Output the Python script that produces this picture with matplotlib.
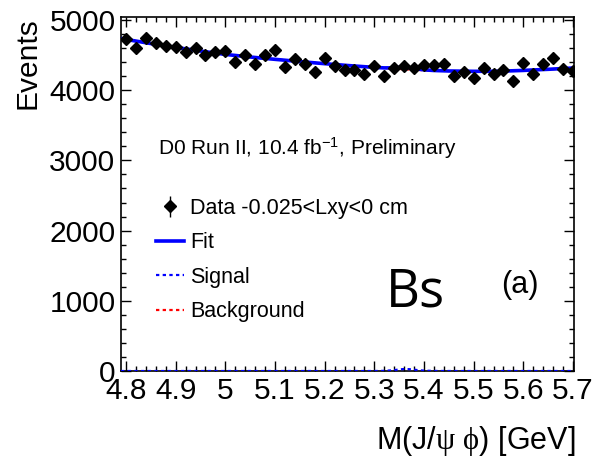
import numpy as np
import matplotlib
matplotlib.use("Agg")
import matplotlib.pyplot as plt
from matplotlib.ticker import MultipleLocator

# ---- data ----
mass = [4.80, 4.82, 4.84, 4.86, 4.88, 4.90, 4.92, 4.94, 4.96, 4.98,
        5.00, 5.02, 5.04, 5.06, 5.08, 5.10, 5.12, 5.14, 5.16, 5.18,
        5.20, 5.22, 5.24, 5.26, 5.28, 5.30, 5.32, 5.34, 5.36, 5.38,
        5.40, 5.42, 5.44, 5.46, 5.48, 5.50, 5.52, 5.54, 5.56, 5.58,
        5.60, 5.62, 5.64, 5.66, 5.68, 5.70]
events = [4729, 4606, 4744, 4668, 4634, 4620, 4540, 4606, 4501, 4540,
          4563, 4397, 4506, 4373, 4506, 4573, 4326, 4444, 4373, 4264,
          4463, 4340, 4288, 4283, 4231, 4340, 4202, 4316, 4349, 4312,
          4363, 4354, 4373, 4198, 4255, 4169, 4321, 4226, 4288, 4127,
          4383, 4236, 4368, 4463, 4302, 4278]

curve_mass = [4.79, 4.85, 4.90, 4.95, 5.00, 5.05, 5.10, 5.15, 5.20, 5.25,
              5.30, 5.32, 5.34, 5.35, 5.36, 5.37, 5.38, 5.40, 5.42, 5.45,
              5.50, 5.55, 5.60, 5.65, 5.70]
background = [4735, 4665, 4610, 4558, 4510, 4473, 4440, 4408, 4378, 4350,
              4325, 4316, 4307, 4303, 4299, 4295, 4291, 4285, 4280, 4274,
              4269, 4270, 4282, 4298, 4316]
signal = [0, 0, 0, 0, 0, 0, 0, 0, 0, 0,
          0, 2, 12, 22, 28, 26, 18, 5, 1, 0,
          0, 0, 0, 0, 0]

x_ticks = [4.8, 4.9, 5.0, 5.1, 5.2, 5.3, 5.4, 5.5, 5.6, 5.7]
x_tick_labels = ["4.8", "4.9", "5", "5.1", "5.2", "5.3", "5.4", "5.5", "5.6", "5.7"]
y_ticks = [0, 1000, 2000, 3000, 4000, 5000]

fit = [b + s for b, s in zip(background, signal)]
errors = np.sqrt(np.array(events, dtype=float))

# ---- figure ----
plt.rcParams['font.family'] = ['Liberation Sans', 'DejaVu Sans']
plt.rcParams['mathtext.fontset'] = 'custom'
plt.rcParams['mathtext.rm'] = 'Liberation Serif'
plt.rcParams['mathtext.it'] = 'Liberation Serif:italic'
plt.rcParams['mathtext.bf'] = 'Liberation Serif:bold'

fig = plt.figure(figsize=(5.94, 4.62), dpi=100)
ax = fig.add_axes([121/594, 1 - 371/462, (574 - 121)/594, (371 - 17)/462])

bkg_line, = ax.plot(curve_mass, background, color='#ff0000', lw=1.6,
                    ls=(0, (1.5, 1.5)), zorder=2)
fit_line, = ax.plot(curve_mass, fit, color='#0000ff', lw=2.6, zorder=3)
sig_line, = ax.plot(curve_mass, signal, color='#0000ff', lw=1.6,
                    ls=(0, (1.5, 1.5)), zorder=3)
data = ax.errorbar(mass, events, yerr=errors, fmt='D', color='black',
                   ms=6.4, elinewidth=1.0, capsize=0, zorder=4)

ax.set_xlim(4.79, 5.702)
ax.set_ylim(0, 5043)

ax.set_xticks(x_ticks)
ax.set_xticklabels(x_tick_labels)
ax.set_yticks(y_ticks)
ax.xaxis.set_minor_locator(MultipleLocator(0.02))
ax.yaxis.set_minor_locator(MultipleLocator(200))
ax.tick_params(which='both', direction='in', top=True, right=True,
               labelsize=21.5, width=1.0, colors='black')
ax.tick_params(which='major', length=7.5)
ax.tick_params(which='minor', length=3.5)
ax.tick_params(axis='x', pad=4)
ax.tick_params(axis='y', pad=4)
for sp in ax.spines.values():
    sp.set_linewidth(1.2)

# axis titles
fig.text(575/594, 1 - 441/462, r"M(J/$\mathrm{\psi}$ $\mathrm{\phi}$) [GeV]",
         ha='right', va='center', fontsize=22)
fig.text(28/594, 1 - 17/462, "Events", rotation=90, ha='center', va='top',
         fontsize=21.5)

# annotation texts
ax.text(158/594, 1 - 148/462, r"D0 Run II, 10.4 fb$^{\mathregular{-1}}$, Preliminary",
        transform=fig.transFigure, ha='left', va='center', fontsize=15)
ax.text(415/594, 1 - 293/462, "Bs", transform=fig.transFigure, ha='center',
        va='center', fontsize=38, family=['Open Sans', 'DejaVu Sans'])
ax.text(520/594, 1 - 285/462, "(a)", transform=fig.transFigure, ha='center',
        va='center', fontsize=22)

leg = ax.legend([data, fit_line, sig_line, bkg_line],
                ["Data -0.025<Lxy<0 cm", "Fit", "Signal", "Background"],
                loc='upper left', bbox_to_anchor=(156/594, 1 - 198/462),
                bbox_transform=fig.transFigure, frameon=False, fontsize=15.5,
                handlelength=1.3, handletextpad=0.3, labelspacing=0.62,
                borderpad=0, borderaxespad=0)

fig.savefig("out.png", dpi=100)
